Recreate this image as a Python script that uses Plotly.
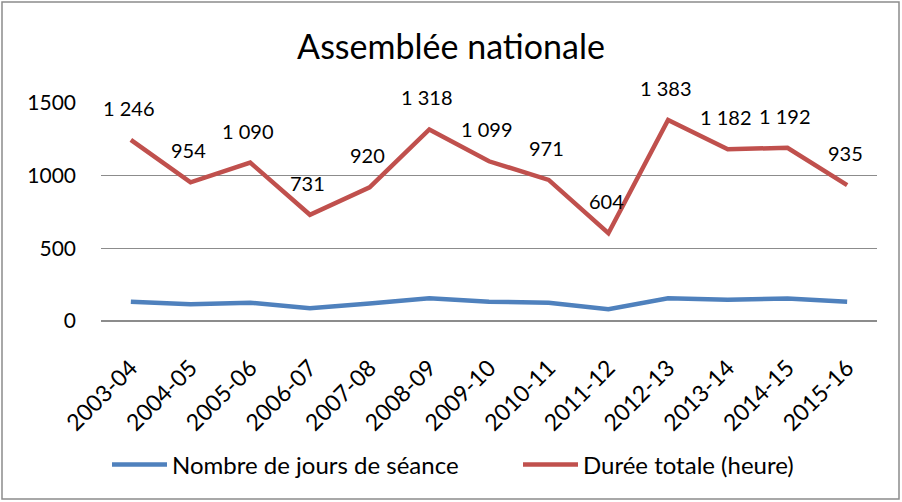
import plotly.graph_objects as go

categories = ["2003-04", "2004-05", "2005-06", "2006-07", "2007-08", "2008-09", "2009-10",
              "2010-11", "2011-12", "2012-13", "2013-14", "2014-15", "2015-16"]
jours = [133, 115, 126, 88, 120, 156, 133, 126, 81, 156, 147, 154, 133]
duree = [1246, 954, 1090, 731, 920, 1318, 1099, 971, 604, 1383, 1182, 1192, 935]
duree_labels = ["1 246", "954", "1 090", "731", "920", "1 318", "1 099", "971", "604",
                "1 383", "1 182", "1 192", "935"]

FONT = "Lato, Carlito, Calibri, sans-serif"

fig = go.Figure()
fig.add_trace(go.Scatter(x=categories, y=jours, mode="lines", name="Nombre de jours de séance",
                         line=dict(color="#4F81BD", width=4.5), legend="legend"))
fig.add_trace(go.Scatter(x=categories, y=duree, mode="lines", name="Durée totale (heure)",
                         line=dict(color="#C0504D", width=4.5), legend="legend2"))

annotations = []
for c, v, t in zip(categories, duree, duree_labels):
    annotations.append(dict(x=c, y=v, text=t, showarrow=False, yshift=32, xshift=-2,
                            font=dict(family=FONT, size=20, color="#000000")))

L, R, T, B = 101, 25, 103, 181
PW = 902 - L - R
PH = 502 - T - B

legend_common = dict(orientation="h", xanchor="left", yanchor="middle",
                     y=(321 - 465) / PH, font=dict(family=FONT, size=24, color="#000000"),
                     itemwidth=55, bgcolor="rgba(0,0,0,0)")

fig.update_layout(
    width=902, height=502,
    margin=dict(l=L, r=R, t=T, b=B, autoexpand=False),
    paper_bgcolor="white", plot_bgcolor="white",
    title=dict(text="Assemblée nationale", x=0.5, xref="container", xanchor="center",
               y=1 - 47 / 502, yref="container", yanchor="middle",
               font=dict(family=FONT, size=34, color="#000000")),
    xaxis=dict(type="category", tickangle=-45, showgrid=False, showline=False,
               ticks="", tickfont=dict(family=FONT, size=23, color="#000000"),
               range=[-0.5, len(categories) - 0.5], automargin=False,
               ticklabelstandoff=28),
    yaxis=dict(range=[0, 1500], dtick=500, showgrid=True, gridcolor="#8C8C8C", gridwidth=1,
               zeroline=True, zerolinecolor="#8C8C8C", zerolinewidth=2,
               tickfont=dict(family=FONT, size=21, color="#000000"), ticks="",
               ticklabelstandoff=24, automargin=False),
    showlegend=True,
    legend=dict(x=(107 - L) / PW, **legend_common),
    legend2=dict(x=(518 - L) / PW, **legend_common),
    annotations=annotations,
    shapes=[dict(type="rect", xref="paper", yref="paper",
                 x0=(2 - L) / PW, x1=(899 - L) / PW,
                 y0=(321 - 499) / PH, y1=1 + (T - 2) / PH,
                 line=dict(color="#8C8C8C", width=1.5), layer="below")],
)

fig.write_html("out.html", config={"displayModeBar": False},
               post_script="document.body.style.margin='0';document.body.style.overflow='hidden';")
